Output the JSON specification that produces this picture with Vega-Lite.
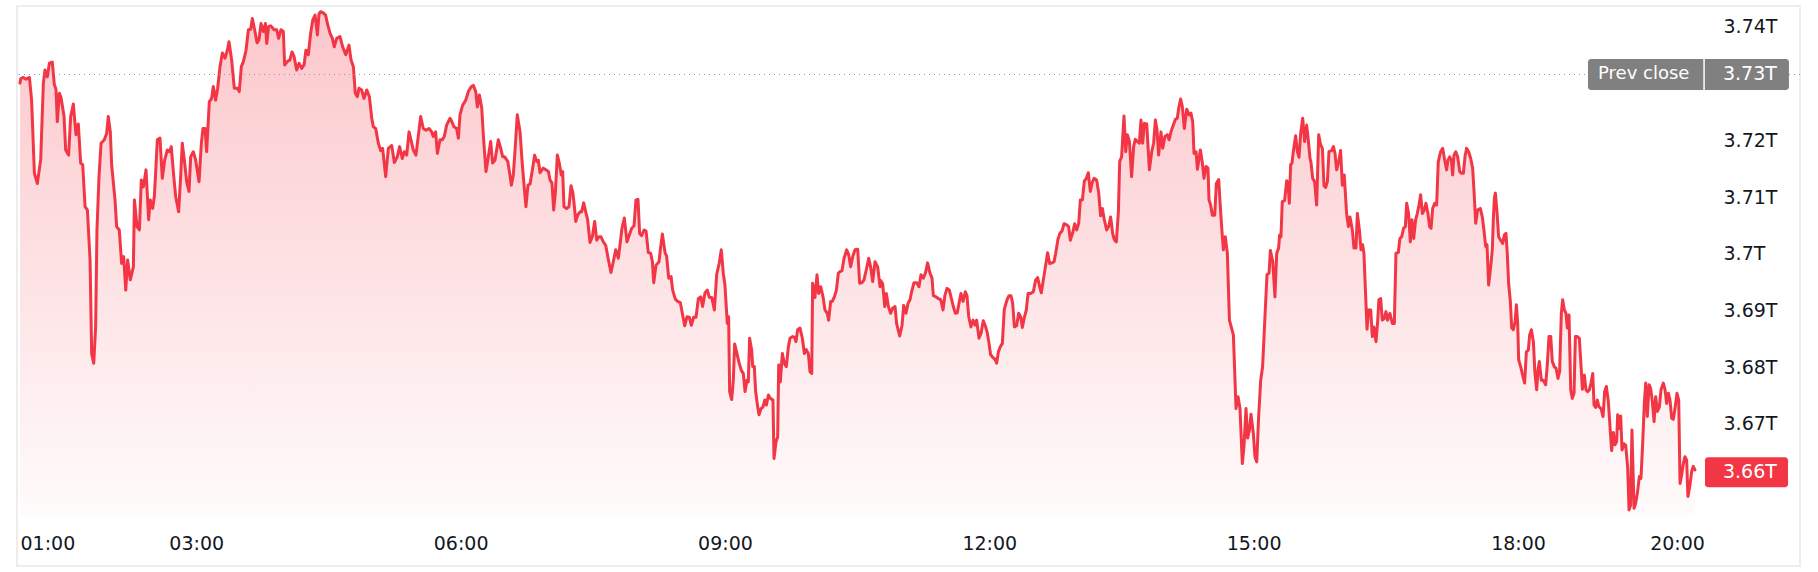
{
  "$schema": "https://vega.github.io/schema/vega-lite/v6.json",
  "autosize": {"type": "none"},
  "padding": {"left": 17, "top": 6, "right": 18, "bottom": 6},
  "width": 1783,
  "height": 560,
  "background": "#ffffff",
  "config": {
    "view": {"stroke": "#EDEDED", "strokeWidth": 2},
    "font": "DejaVu Sans"
  },
  "datasets": {
    "cap": [
      {"m":60,"v":3.7301},{"m":60.5,"v":3.7309},{"m":62.3,"v":3.7311},{"m":64.1,"v":3.7308},{"m":66.4,"v":3.7311},{"m":67.9,"v":3.7271},{"m":69.8,"v":3.7142},{"m":71.8,"v":3.7124},{"m":74.1,"v":3.7166},{"m":75.9,"v":3.7301},
      {"m":77.0,"v":3.7324},{"m":78.6,"v":3.7312},{"m":80.0,"v":3.7336},{"m":82.0,"v":3.7338},{"m":83.4,"v":3.7298},{"m":84.5,"v":3.7290},{"m":85.4,"v":3.7233},{"m":86.8,"v":3.7283},{"m":87.9,"v":3.7276},{"m":90.0,"v":3.7242},
      {"m":91.1,"v":3.7183},{"m":93.1,"v":3.7174},{"m":94.5,"v":3.7242},{"m":96.3,"v":3.7264},{"m":98.1,"v":3.7210},{"m":99.7,"v":3.7229},{"m":101.3,"v":3.7160},{"m":102.7,"v":3.7157},{"m":104.3,"v":3.7083},{"m":105.9,"v":3.7077},
      {"m":107.7,"v":3.6989},{"m":108.8,"v":3.6824},{"m":110.2,"v":3.6807},{"m":111.5,"v":3.6871},{"m":112.4,"v":3.7042},{"m":113.8,"v":3.7136},{"m":115.2,"v":3.7195},{"m":117.4,"v":3.7201},{"m":119.0,"v":3.7212},{"m":120.1,"v":3.7242},
      {"m":121.5,"v":3.7215},{"m":122.4,"v":3.7157},{"m":124.7,"v":3.7095},{"m":125.8,"v":3.7048},{"m":127.6,"v":3.7042},{"m":129.2,"v":3.6983},{"m":130.6,"v":3.6995},{"m":132.0,"v":3.6936},{"m":133.3,"v":3.6989},{"m":135.1,"v":3.6954},
      {"m":137.2,"v":3.6977},{"m":137.9,"v":3.7095},{"m":139.7,"v":3.7048},{"m":141.3,"v":3.7042},{"m":142.6,"v":3.7130},{"m":144.0,"v":3.7118},{"m":145.8,"v":3.7148},{"m":147.6,"v":3.7060},{"m":148.7,"v":3.7095},{"m":150.3,"v":3.7080},
      {"m":151.5,"v":3.7101},{"m":153.5,"v":3.7201},{"m":155.3,"v":3.7204},{"m":156.9,"v":3.7133},{"m":158.5,"v":3.7165},{"m":160.3,"v":3.7183},{"m":161.9,"v":3.7180},{"m":163.0,"v":3.7189},{"m":164.6,"v":3.7139},{"m":166.0,"v":3.7101},
      {"m":168.0,"v":3.7074},{"m":169.2,"v":3.7127},{"m":170.5,"v":3.7195},{"m":171.9,"v":3.7165},{"m":173.5,"v":3.7127},{"m":175.1,"v":3.7110},{"m":176.2,"v":3.7171},{"m":178.0,"v":3.7180},{"m":179.6,"v":3.7165},{"m":181.9,"v":3.7127},
      {"m":183.5,"v":3.7195},{"m":184.6,"v":3.7221},{"m":186.0,"v":3.7221},{"m":187.1,"v":3.7180},{"m":188.9,"v":3.7268},{"m":190.5,"v":3.7274},{"m":191.6,"v":3.7295},{"m":193.2,"v":3.7271},{"m":194.6,"v":3.7292},{"m":196.2,"v":3.7330},
      {"m":197.8,"v":3.7354},{"m":199.6,"v":3.7345},{"m":201.2,"v":3.7359},{"m":202.3,"v":3.7374},{"m":204.1,"v":3.7342},{"m":205.9,"v":3.7292},{"m":208.0,"v":3.7292},{"m":209.3,"v":3.7286},{"m":210.7,"v":3.7330},{"m":212.1,"v":3.7339},
      {"m":213.9,"v":3.7359},{"m":215.5,"v":3.7395},{"m":217.1,"v":3.7396},{"m":218.2,"v":3.7415},{"m":220.0,"v":3.7392},{"m":221.4,"v":3.7372},{"m":222.7,"v":3.7377},{"m":224.1,"v":3.7406},{"m":225.7,"v":3.7392},{"m":227.1,"v":3.7406},
      {"m":228.0,"v":3.7371},{"m":229.3,"v":3.7401},{"m":230.7,"v":3.7402},{"m":233.0,"v":3.7395},{"m":234.8,"v":3.7395},{"m":236.1,"v":3.7380},{"m":237.7,"v":3.7395},{"m":239.3,"v":3.7392},{"m":240.2,"v":3.7333},{"m":242.0,"v":3.7339},
      {"m":243.8,"v":3.7342},{"m":245.2,"v":3.7356},{"m":246.6,"v":3.7348},{"m":248.4,"v":3.7324},{"m":250.0,"v":3.7336},{"m":251.8,"v":3.7327},{"m":253.4,"v":3.7333},{"m":254.7,"v":3.7359},{"m":256.3,"v":3.7351},{"m":257.9,"v":3.7389},
      {"m":259.3,"v":3.7412},{"m":260.9,"v":3.7421},{"m":262.5,"v":3.7386},{"m":263.6,"v":3.7423},{"m":264.7,"v":3.7427},{"m":266.5,"v":3.7425},{"m":268.1,"v":3.7421},{"m":269.5,"v":3.7404},{"m":271.1,"v":3.7389},{"m":272.7,"v":3.7380},
      {"m":274.0,"v":3.7365},{"m":275.6,"v":3.7380},{"m":277.9,"v":3.7383},{"m":279.7,"v":3.7365},{"m":281.8,"v":3.7351},{"m":284.0,"v":3.7368},{"m":285.4,"v":3.7342},{"m":287.0,"v":3.7330},{"m":288.3,"v":3.7283},{"m":289.7,"v":3.7277},
      {"m":290.8,"v":3.7292},{"m":292.6,"v":3.7289},{"m":294.2,"v":3.7274},{"m":296.1,"v":3.7289},{"m":297.9,"v":3.7277},{"m":299.5,"v":3.7239},{"m":300.6,"v":3.7224},{"m":302.2,"v":3.7221},{"m":304.0,"v":3.7195},{"m":305.6,"v":3.7182},
      {"m":306.9,"v":3.7186},{"m":309.0,"v":3.7136},{"m":310.8,"v":3.7186},{"m":313.1,"v":3.7191},{"m":314.9,"v":3.7161},{"m":316.9,"v":3.7171},{"m":318.5,"v":3.7189},{"m":320.3,"v":3.7168},{"m":321.7,"v":3.7180},{"m":323.3,"v":3.7174},
      {"m":324.9,"v":3.7215},{"m":326.2,"v":3.7201},{"m":327.8,"v":3.7183},{"m":329.6,"v":3.7174},{"m":331.7,"v":3.7218},{"m":332.8,"v":3.7242},{"m":334.6,"v":3.7221},{"m":336.5,"v":3.7218},{"m":338.5,"v":3.7221},{"m":340.3,"v":3.7215},
      {"m":341.4,"v":3.7207},{"m":343.0,"v":3.7215},{"m":344.2,"v":3.7177},{"m":346.0,"v":3.7201},{"m":347.6,"v":3.7201},{"m":348.9,"v":3.7207},{"m":350.5,"v":3.7227},{"m":352.8,"v":3.7239},
      {"m":353.5,"v":3.7236},{"m":355.5,"v":3.7224},{"m":357.3,"v":3.7221},{"m":358.5,"v":3.7204},{"m":359.6,"v":3.7245},{"m":361.4,"v":3.7262},{"m":363.5,"v":3.7271},{"m":365.3,"v":3.7286},{"m":367.1,"v":3.7294},{"m":368.7,"v":3.7297},
      {"m":370.3,"v":3.7286},{"m":371.4,"v":3.7259},{"m":372.8,"v":3.7280},{"m":374.4,"v":3.7257},{"m":375.7,"v":3.7201},{"m":377.3,"v":3.7145},{"m":378.9,"v":3.7171},{"m":380.5,"v":3.7198},{"m":381.8,"v":3.7160},{"m":383.4,"v":3.7165},
      {"m":385.7,"v":3.7201},{"m":387.1,"v":3.7188},{"m":388.7,"v":3.7171},{"m":390.0,"v":3.7171},{"m":392.1,"v":3.7163},{"m":393.6,"v":3.7139},{"m":394.6,"v":3.7121},{"m":395.9,"v":3.7139},{"m":397.1,"v":3.7183},{"m":398.6,"v":3.7245},
      {"m":400.5,"v":3.7215},{"m":401.8,"v":3.7165},{"m":403.2,"v":3.7121},{"m":404.5,"v":3.7083},{"m":405.9,"v":3.7121},{"m":407.3,"v":3.7123},{"m":408.9,"v":3.7148},{"m":410.4,"v":3.7174},{"m":411.8,"v":3.7163},{"m":412.9,"v":3.7165},
      {"m":414.1,"v":3.7143},{"m":416.3,"v":3.7151},{"m":418.2,"v":3.7148},{"m":419.8,"v":3.7145},{"m":420.9,"v":3.7130},{"m":422.2,"v":3.7125},{"m":423.4,"v":3.7077},{"m":424.5,"v":3.7107},{"m":425.9,"v":3.7174},{"m":427.2,"v":3.7160},
      {"m":428.6,"v":3.7139},{"m":429.5,"v":3.7145},{"m":430.4,"v":3.7083},{"m":432.2,"v":3.7080},{"m":433.8,"v":3.7083},{"m":435.2,"v":3.7120},{"m":436.5,"v":3.7107},{"m":437.5,"v":3.7083},{"m":438.4,"v":3.7057},{"m":439.7,"v":3.7068},
      {"m":441.3,"v":3.7074},{"m":442.4,"v":3.7074},{"m":443.8,"v":3.7090},{"m":445.2,"v":3.7074},{"m":446.5,"v":3.7060},{"m":448.1,"v":3.7020},{"m":449.7,"v":3.7030},{"m":451.3,"v":3.7057},{"m":452.7,"v":3.7024},{"m":454.3,"v":3.7030},
      {"m":455.6,"v":3.7030},{"m":457.2,"v":3.7021},{"m":458.8,"v":3.7015},{"m":460.6,"v":3.6990},{"m":462.4,"v":3.6967},{"m":464.0,"v":3.6986},{"m":465.6,"v":3.7007},{"m":467.4,"v":3.6992},{"m":468.8,"v":3.7021},{"m":469.9,"v":3.7045},
      {"m":471.5,"v":3.7063},{"m":473.3,"v":3.7021},{"m":474.9,"v":3.7033},{"m":476.5,"v":3.7045},{"m":478.1,"v":3.7049},{"m":479.4,"v":3.7095},{"m":480.8,"v":3.7096},{"m":481.9,"v":3.7036},{"m":483.3,"v":3.7032},{"m":484.9,"v":3.7042},
      {"m":486.3,"v":3.7040},{"m":487.8,"v":3.7002},{"m":489.4,"v":3.7001},{"m":490.6,"v":3.6986},{"m":491.5,"v":3.6949},{"m":493.1,"v":3.6980},{"m":495.1,"v":3.6986},{"m":496.0,"v":3.7007},{"m":497.4,"v":3.7035},{"m":499.2,"v":3.7002},
      {"m":500.3,"v":3.6996},{"m":501.7,"v":3.6957},{"m":503.3,"v":3.6960},{"m":504.4,"v":3.6936},{"m":506.2,"v":3.6920},{"m":507.8,"v":3.6916},{"m":509.6,"v":3.6914},{"m":511.2,"v":3.6892},{"m":512.6,"v":3.6873},{"m":514.2,"v":3.6889},
      {"m":515.8,"v":3.6888},{"m":517.1,"v":3.6874},{"m":518.7,"v":3.6888},{"m":520.3,"v":3.6888},{"m":521.9,"v":3.6921},{"m":523.5,"v":3.6924},{"m":524.8,"v":3.6907},{"m":526.4,"v":3.6931},{"m":528.0,"v":3.6936},{"m":529.4,"v":3.6923},
      {"m":531.0,"v":3.6923},{"m":532.8,"v":3.6901},{"m":534.4,"v":3.6964},{"m":536.0,"v":3.6982},{"m":537.5,"v":3.7007},{"m":538.9,"v":3.6965},{"m":540.0,"v":3.6945},{"m":541.6,"v":3.6877},{"m":542.5,"v":3.6889},{"m":543.2,"v":3.6757},
      {"m":544.6,"v":3.6743},{"m":545.7,"v":3.6777},{"m":546.6,"v":3.6841},{"m":548.2,"v":3.6824},{"m":549.6,"v":3.6808},{"m":551.2,"v":3.6794},{"m":552.5,"v":3.6789},{"m":553.7,"v":3.6757},{"m":555.0,"v":3.6777},{"m":555.9,"v":3.6774},
      {"m":556.8,"v":3.6851},{"m":558.2,"v":3.6830},{"m":558.9,"v":3.6801},{"m":560.0,"v":3.6801},{"m":560.9,"v":3.6757},{"m":562.3,"v":3.6730},{"m":563.2,"v":3.6716},{"m":564.6,"v":3.6727},{"m":565.9,"v":3.6730},{"m":567.1,"v":3.6742},
      {"m":568.2,"v":3.6733},{"m":569.6,"v":3.6751},{"m":570.9,"v":3.6745},{"m":572.7,"v":3.6742},{"m":573.4,"v":3.6639},{"m":574.8,"v":3.6669},{"m":575.9,"v":3.6677},{"m":576.6,"v":3.6804},{"m":577.7,"v":3.6774},{"m":579.1,"v":3.6824},
      {"m":580.4,"v":3.6807},{"m":581.8,"v":3.6801},{"m":583.2,"v":3.6836},{"m":584.3,"v":3.6851},{"m":586.1,"v":3.6854},{"m":587.3,"v":3.6853},{"m":588.4,"v":3.6845},{"m":589.5,"v":3.6866},{"m":591.1,"v":3.6869},{"m":592.7,"v":3.6851},
      {"m":594.1,"v":3.6824},{"m":595.4,"v":3.6831},{"m":596.8,"v":3.6824},{"m":597.9,"v":3.6792},{"m":599.1,"v":3.6789},{"m":599.7,"v":3.6948},{"m":601.3,"v":3.6923},{"m":602.7,"v":3.6963},{"m":603.8,"v":3.6930},{"m":605.2,"v":3.6942},
      {"m":606.8,"v":3.6924},{"m":608.1,"v":3.6901},{"m":609.7,"v":3.6895},{"m":610.6,"v":3.6883},{"m":612.0,"v":3.6916},{"m":613.1,"v":3.6916},{"m":614.5,"v":3.6924},{"m":615.9,"v":3.6936},{"m":617.2,"v":3.6966},{"m":618.6,"v":3.6969},
      {"m":619.7,"v":3.6970},{"m":621.1,"v":3.6992},{"m":622.9,"v":3.7007},{"m":624.3,"v":3.6998},{"m":625.6,"v":3.6977},{"m":627.0,"v":3.6995},{"m":628.6,"v":3.7007},{"m":630.4,"v":3.7008},{"m":631.7,"v":3.6948},{"m":633.3,"v":3.6949},
      {"m":634.7,"v":3.6954},{"m":636.1,"v":3.6970},{"m":637.9,"v":3.6992},{"m":639.2,"v":3.6977},{"m":640.6,"v":3.6951},{"m":642.2,"v":3.6986},{"m":644.0,"v":3.6977},{"m":645.6,"v":3.6942},
      {"m":646.0,"v":3.6953},{"m":647.4,"v":3.6947},{"m":648.8,"v":3.6907},{"m":649.9,"v":3.6930},{"m":651.3,"v":3.6907},{"m":652.8,"v":3.6895},{"m":654.2,"v":3.6904},{"m":655.8,"v":3.6907},{"m":656.9,"v":3.6877},{"m":659.0,"v":3.6855},
      {"m":660.6,"v":3.6874},{"m":661.7,"v":3.6909},{"m":663.3,"v":3.6895},{"m":664.6,"v":3.6912},{"m":666.0,"v":3.6919},{"m":667.1,"v":3.6933},{"m":668.7,"v":3.6949},{"m":670.6,"v":3.6949},{"m":672.1,"v":3.6942},{"m":673.5,"v":3.6963},
      {"m":675.1,"v":3.6957},{"m":676.5,"v":3.6966},{"m":678.0,"v":3.6984},{"m":679.6,"v":3.6966},{"m":681.0,"v":3.6957},{"m":681.9,"v":3.6926},{"m":683.7,"v":3.6924},{"m":685.3,"v":3.6921},{"m":686.9,"v":3.6919},{"m":688.5,"v":3.6901},
      {"m":689.8,"v":3.6927},{"m":691.2,"v":3.6939},{"m":692.8,"v":3.6936},{"m":693.9,"v":3.6924},{"m":695.5,"v":3.6907},{"m":696.9,"v":3.6895},{"m":698.2,"v":3.6896},{"m":699.6,"v":3.6916},{"m":700.7,"v":3.6930},{"m":702.1,"v":3.6916},
      {"m":703.7,"v":3.6933},{"m":704.8,"v":3.6926},{"m":706.0,"v":3.6889},{"m":707.5,"v":3.6871},{"m":708.9,"v":3.6883},{"m":710.3,"v":3.6874},{"m":711.4,"v":3.6883},{"m":713.0,"v":3.6851},{"m":714.4,"v":3.6860},{"m":715.9,"v":3.6882},
      {"m":717.3,"v":3.6873},{"m":718.7,"v":3.6860},{"m":719.8,"v":3.6842},{"m":720.9,"v":3.6822},{"m":722.5,"v":3.6817},{"m":723.9,"v":3.6814},{"m":725.0,"v":3.6807},{"m":726.2,"v":3.6827},{"m":727.5,"v":3.6836},{"m":728.9,"v":3.6842},
      {"m":730.2,"v":3.6902},{"m":732.1,"v":3.6919},{"m":733.4,"v":3.6926},{"m":734.8,"v":3.6926},{"m":735.9,"v":3.6913},{"m":737.1,"v":3.6871},{"m":738.6,"v":3.6873},{"m":740.0,"v":3.6895},{"m":741.4,"v":3.6889},{"m":742.5,"v":3.6870},
      {"m":743.9,"v":3.6888},{"m":745.2,"v":3.6901},{"m":746.4,"v":3.6930},{"m":748.2,"v":3.6930},{"m":750.0,"v":3.6933},{"m":751.6,"v":3.6954},{"m":752.9,"v":3.6958},{"m":754.3,"v":3.6942},{"m":755.4,"v":3.6931},{"m":756.8,"v":3.6954},
      {"m":758.4,"v":3.6980},{"m":759.7,"v":3.7002},{"m":761.1,"v":3.6983},{"m":762.7,"v":3.6984},{"m":764.1,"v":3.6986},{"m":765.2,"v":3.7001},{"m":766.8,"v":3.7026},{"m":768.1,"v":3.7036},{"m":769.5,"v":3.7040},{"m":770.9,"v":3.7053},
      {"m":772.7,"v":3.7051},{"m":774.0,"v":3.7048},{"m":775.2,"v":3.7024},{"m":776.8,"v":3.7037},{"m":778.1,"v":3.7053},{"m":779.5,"v":3.7042},{"m":780.9,"v":3.7054},{"m":782.0,"v":3.7095},{"m":783.4,"v":3.7095},{"m":784.7,"v":3.7128},
      {"m":786.1,"v":3.7133},{"m":787.4,"v":3.7143},{"m":788.8,"v":3.7110},{"m":789.9,"v":3.7124},{"m":791.3,"v":3.7133},{"m":793.1,"v":3.7130},{"m":794.5,"v":3.7107},{"m":795.8,"v":3.7067},{"m":797.0,"v":3.7080},{"m":798.3,"v":3.7060},
      {"m":799.9,"v":3.7042},{"m":801.3,"v":3.7048},{"m":802.6,"v":3.7065},{"m":804.0,"v":3.7036},{"m":805.1,"v":3.7025},{"m":806.5,"v":3.7021},{"m":807.9,"v":3.7074},{"m":808.8,"v":3.7163},{"m":810.1,"v":3.7171},{"m":811.7,"v":3.7243},
      {"m":812.9,"v":3.7180},{"m":814.0,"v":3.7210},{"m":815.4,"v":3.7198},{"m":816.9,"v":3.7136},{"m":818.3,"v":3.7189},{"m":819.4,"v":3.7202},{"m":820.8,"v":3.7198},{"m":822.2,"v":3.7195},{"m":823.3,"v":3.7236},{"m":824.4,"v":3.7195},
      {"m":825.6,"v":3.7230},{"m":827.2,"v":3.7229},{"m":829.0,"v":3.7148},{"m":830.6,"v":3.7180},{"m":831.9,"v":3.7195},{"m":833.1,"v":3.7236},{"m":834.2,"v":3.7218},{"m":835.3,"v":3.7174},{"m":836.9,"v":3.7215},{"m":838.1,"v":3.7186},
      {"m":839.6,"v":3.7207},{"m":841.2,"v":3.7210},{"m":842.4,"v":3.7201},{"m":843.7,"v":3.7215},{"m":845.3,"v":3.7227},{"m":846.7,"v":3.7237},{"m":848.0,"v":3.7239},{"m":849.0,"v":3.7257},{"m":850.3,"v":3.7273},{"m":851.4,"v":3.7260},
      {"m":852.8,"v":3.7221},{"m":854.4,"v":3.7255},{"m":856.0,"v":3.7245},{"m":857.3,"v":3.7248},{"m":858.5,"v":3.7233},{"m":859.4,"v":3.7177},{"m":860.8,"v":3.7180},{"m":861.7,"v":3.7149},{"m":862.8,"v":3.7167},{"m":863.7,"v":3.7183},
      {"m":865.1,"v":3.7160},{"m":866.2,"v":3.7133},{"m":867.6,"v":3.7154},{"m":868.9,"v":3.7151},{"m":869.6,"v":3.7095},{"m":870.7,"v":3.7086},{"m":871.9,"v":3.7068},{"m":873.5,"v":3.7068},{"m":874.6,"v":3.7124},{"m":876.2,"v":3.7131},
      {"m":877.6,"v":3.7071},{"m":878.7,"v":3.7030},{"m":879.4,"v":3.7007},{"m":880.7,"v":3.7030},{"m":882.1,"v":3.7001},{"m":883.5,"v":3.6883},{"m":886.2,"v":3.6857},{"m":888.0,"v":3.6727},{"m":889.4,"v":3.6748},{"m":890.7,"v":3.6727},
      {"m":892.3,"v":3.6630},{"m":893.4,"v":3.6660},{"m":894.8,"v":3.6727},{"m":895.9,"v":3.6675},{"m":897.1,"v":3.6689},{"m":898.2,"v":3.6717},{"m":899.8,"v":3.6683},{"m":900.9,"v":3.6642},{"m":902.1,"v":3.6633},{"m":903.4,"v":3.6713},
      {"m":904.8,"v":3.6777},{"m":906.1,"v":3.6801},{"m":907.7,"v":3.6889},{"m":909.1,"v":3.6963},{"m":910.5,"v":3.6966},{"m":911.4,"v":3.7006},{"m":913.0,"v":3.6986},{"m":914.5,"v":3.6924},{"m":915.7,"v":3.7001},{"m":917.0,"v":3.7010},
      {"m":917.7,"v":3.7033},{"m":918.6,"v":3.7030},{"m":919.5,"v":3.7092},{"m":921.1,"v":3.7094},{"m":922.5,"v":3.7129},{"m":923.4,"v":3.7124},{"m":924.3,"v":3.7089},{"m":925.2,"v":3.7157},{"m":926.1,"v":3.7160},{"m":927.0,"v":3.7180},
      {"m":928.6,"v":3.7208},{"m":929.8,"v":3.7180},{"m":930.9,"v":3.7170},{"m":932.0,"v":3.7212},{"m":933.4,"v":3.7239},{"m":934.7,"v":3.7198},{"m":936.1,"v":3.7227},{"m":937.2,"v":3.7201},{"m":938.4,"v":3.7168},
      {"m":939.0,"v":3.7162},{"m":940.2,"v":3.7133},{"m":941.5,"v":3.7127},{"m":942.9,"v":3.7086},{"m":944.3,"v":3.7210},{"m":945.6,"v":3.7192},{"m":946.8,"v":3.7186},{"m":947.9,"v":3.7120},{"m":949.0,"v":3.7117},{"m":950.2,"v":3.7127},
      {"m":951.3,"v":3.7180},{"m":953.1,"v":3.7182},{"m":954.3,"v":3.7189},{"m":955.4,"v":3.7177},{"m":956.5,"v":3.7148},{"m":958.1,"v":3.7165},{"m":959.2,"v":3.7182},{"m":960.4,"v":3.7121},{"m":961.7,"v":3.7139},{"m":963.3,"v":3.7071},
      {"m":964.5,"v":3.7048},{"m":965.6,"v":3.7065},{"m":967.2,"v":3.7042},{"m":968.3,"v":3.7010},{"m":969.7,"v":3.7010},{"m":970.6,"v":3.7071},{"m":972.0,"v":3.7042},{"m":973.1,"v":3.7007},{"m":974.2,"v":3.7016},{"m":975.1,"v":3.7001},
      {"m":976.3,"v":3.6924},{"m":977.2,"v":3.6867},{"m":978.3,"v":3.6901},{"m":979.7,"v":3.6901},{"m":980.8,"v":3.6854},{"m":981.9,"v":3.6871},{"m":983.3,"v":3.6845},{"m":984.4,"v":3.6879},{"m":985.3,"v":3.6919},{"m":986.5,"v":3.6921},
      {"m":987.6,"v":3.6883},{"m":989.0,"v":3.6886},{"m":990.1,"v":3.6898},{"m":991.2,"v":3.6883},{"m":992.8,"v":3.6895},{"m":994.4,"v":3.6877},{"m":995.8,"v":3.6877},{"m":996.9,"v":3.7001},{"m":998.5,"v":3.7002},{"m":999.6,"v":3.7027},
      {"m":1000.8,"v":3.7030},{"m":1002.1,"v":3.7045},{"m":1003.3,"v":3.7048},{"m":1004.2,"v":3.7089},{"m":1005.5,"v":3.7071},{"m":1006.7,"v":3.7021},{"m":1007.8,"v":3.7060},{"m":1009.0,"v":3.7027},{"m":1010.3,"v":3.7060},{"m":1011.4,"v":3.7071},
      {"m":1012.6,"v":3.7086},{"m":1013.7,"v":3.7104},{"m":1014.9,"v":3.7071},{"m":1016.2,"v":3.7077},{"m":1017.3,"v":3.7089},{"m":1018.7,"v":3.7071},{"m":1019.8,"v":3.7048},{"m":1020.8,"v":3.7045},{"m":1021.9,"v":3.7080},{"m":1023.3,"v":3.7089},
      {"m":1024.6,"v":3.7086},{"m":1025.7,"v":3.7162},{"m":1027.3,"v":3.7180},{"m":1028.7,"v":3.7186},{"m":1030.1,"v":3.7165},{"m":1031.4,"v":3.7148},{"m":1032.3,"v":3.7165},{"m":1033.5,"v":3.7171},{"m":1034.6,"v":3.7165},{"m":1035.5,"v":3.7139},
      {"m":1036.4,"v":3.7174},{"m":1037.6,"v":3.7180},{"m":1038.9,"v":3.7171},{"m":1040.3,"v":3.7145},{"m":1041.6,"v":3.7142},{"m":1042.8,"v":3.7142},{"m":1043.9,"v":3.7171},{"m":1045.0,"v":3.7186},{"m":1046.4,"v":3.7180},{"m":1047.8,"v":3.7168},
      {"m":1049.1,"v":3.7151},{"m":1050.0,"v":3.7113},{"m":1051.2,"v":3.7054},{"m":1052.5,"v":3.7077},{"m":1054.3,"v":3.7080},{"m":1055.7,"v":3.7065},{"m":1056.8,"v":3.7042},{"m":1058.0,"v":3.7013},{"m":1058.9,"v":3.7016},{"m":1060.0,"v":3.6945},
      {"m":1061.4,"v":3.6977},{"m":1062.5,"v":3.7007},{"m":1063.2,"v":3.7060},{"m":1063.9,"v":3.7098},{"m":1064.6,"v":3.7107},{"m":1065.7,"v":3.7074},{"m":1066.8,"v":3.7030},{"m":1068.2,"v":3.7024},{"m":1069.6,"v":3.7018},{"m":1070.7,"v":3.7033},
      {"m":1071.8,"v":3.7036},{"m":1072.7,"v":3.7001},{"m":1073.6,"v":3.6948},{"m":1074.8,"v":3.6916},{"m":1075.7,"v":3.6869},{"m":1076.8,"v":3.6866},{"m":1078.0,"v":3.6880},{"m":1078.9,"v":3.6910},{"m":1079.8,"v":3.6877},{"m":1080.5,"v":3.6813},
      {"m":1082.0,"v":3.6801},{"m":1083.5,"v":3.6786},{"m":1085.0,"v":3.6772},{"m":1086.3,"v":3.6827},{"m":1087.8,"v":3.6830},{"m":1088.8,"v":3.6857},{"m":1090.1,"v":3.6866},{"m":1091.6,"v":3.6845},{"m":1092.8,"v":3.6789},{"m":1094.1,"v":3.6760},
      {"m":1095.1,"v":3.6795},{"m":1096.1,"v":3.6810},{"m":1097.6,"v":3.6777},{"m":1099.1,"v":3.6777},{"m":1100.9,"v":3.6769},{"m":1102.1,"v":3.6804},{"m":1103.4,"v":3.6854},{"m":1104.7,"v":3.6854},{"m":1105.9,"v":3.6810},{"m":1107.4,"v":3.6801},
      {"m":1108.7,"v":3.6798},{"m":1110.2,"v":3.6780},{"m":1111.4,"v":3.6792},{"m":1112.7,"v":3.6895},{"m":1113.7,"v":3.6919},{"m":1115.0,"v":3.6901},{"m":1116.2,"v":3.6895},{"m":1117.2,"v":3.6869},{"m":1118.5,"v":3.6892},{"m":1119.8,"v":3.6760},
      {"m":1121.0,"v":3.6745},{"m":1122.3,"v":3.6754},{"m":1123.3,"v":3.6854},{"m":1124.8,"v":3.6854},{"m":1126.3,"v":3.6851},{"m":1127.6,"v":3.6801},{"m":1128.6,"v":3.6761},{"m":1130.1,"v":3.6786},{"m":1131.3,"v":3.6760},{"m":1132.6,"v":3.6757},
      {"m":1133.8,"v":3.6760},{"m":1135.1,"v":3.6772},{"m":1136.4,"v":3.6789},{"m":1137.4,"v":3.6733},{"m":1138.6,"v":3.6729},{"m":1139.9,"v":3.6742},{"m":1141.1,"v":3.6730},{"m":1142.7,"v":3.6727},{"m":1144.2,"v":3.6713},{"m":1145.4,"v":3.6757},
      {"m":1146.7,"v":3.6766},{"m":1148.2,"v":3.6739},{"m":1149.7,"v":3.6686},{"m":1150.7,"v":3.6653},{"m":1152.0,"v":3.6685},{"m":1153.2,"v":3.6663},{"m":1154.5,"v":3.6669},{"m":1155.2,"v":3.6716},{"m":1156.5,"v":3.6692},{"m":1157.5,"v":3.6714},
      {"m":1158.5,"v":3.6654},{"m":1160.0,"v":3.6665},{"m":1161.3,"v":3.6662},{"m":1162.8,"v":3.6622},{"m":1163.8,"v":3.6548},{"m":1165.0,"v":3.6557},{"m":1166.0,"v":3.6689},{"m":1167.6,"v":3.6551},{"m":1168.8,"v":3.6560},{"m":1170.1,"v":3.6578},
      {"m":1171.6,"v":3.6607},{"m":1172.8,"v":3.6604},{"m":1174.1,"v":3.6666},{"m":1175.4,"v":3.6739},{"m":1176.4,"v":3.6772},{"m":1177.6,"v":3.6713},{"m":1178.9,"v":3.6769},{"m":1180.1,"v":3.6763},{"m":1181.4,"v":3.6739},{"m":1182.7,"v":3.6704},
      {"m":1183.9,"v":3.6748},{"m":1185.2,"v":3.6722},{"m":1186.7,"v":3.6730},{"m":1187.9,"v":3.6760},{"m":1189.7,"v":3.6772},{"m":1191.0,"v":3.6760},{"m":1192.2,"v":3.6736},{"m":1193.5,"v":3.6754},{"m":1194.7,"v":3.6742},{"m":1196.0,"v":3.6710},
      {"m":1197.2,"v":3.6708},{"m":1198.5,"v":3.6727},{"m":1200.0,"v":3.6754},{"m":1201.3,"v":3.6742},{"m":1202.3,"v":3.6595},{"m":1203.5,"v":3.6610},{"m":1204.8,"v":3.6630},{"m":1206.0,"v":3.6642},{"m":1207.3,"v":3.6636},{"m":1208.3,"v":3.6572},
      {"m":1209.8,"v":3.6592},{"m":1211.1,"v":3.6616},{"m":1212.3,"v":3.6625},{"m":1213.6,"v":3.6619}
    ]
  },
  "layer": [
    {
      "data": {"name": "cap"},
      "mark": {
        "type": "area",
        "interpolate": "linear",
        "fill": {
          "gradient": "linear",
          "x1": 0, "y1": 0, "x2": 0, "y2": 1,
          "stops": [
            {"offset": 0, "color": "rgba(242,54,69,0.28)"},
            {"offset": 1, "color": "rgba(242,54,69,0.02)"}
          ]
        }
      },
      "encoding": {
        "x": {
          "field": "m", "type": "quantitative",
          "scale": {"domain": [60, 1080, 1200, 1225], "range": [3, 1501, 1660, 1693], "nice": false, "zero": false},
          "axis": {
            "orient": "bottom",
            "values": [60, 180, 360, 540, 720, 900, 1080, 1200],
            "labelExpr": "(datum.value < 600 ? '0' : '') + (datum.value / 60) + ':00'",
            "title": null,
            "grid": false, "domain": false, "ticks": false, "tickSize": 0,
            "labelPadding": 0, "offset": -23,
            "labelBaseline": "middle",
            "labelFlush": true,
            "labelOverlap": false,
            "labelFont": "DejaVu Sans", "labelFontSize": 19, "labelColor": "#131722"
          }
        },
        "y": {
          "field": "v", "type": "quantitative",
          "scale": {"domain": [3.65393, 3.7437], "range": [509, 0], "nice": false, "zero": false},
          "axis": {
            "orient": "right",
            "values": [3.67, 3.68, 3.69, 3.7, 3.71, 3.72, 3.74],
            "labelExpr": "format(datum.value, '.3~r') + 'T'",
            "title": null,
            "grid": false, "domain": false, "ticks": false, "tickSize": 0,
            "labelPadding": 0, "offset": -77,
            "labelAlign": "left", "labelBaseline": "middle",
            "labelOverlap": false,
            "labelFont": "DejaVu Sans", "labelFontSize": 19, "labelColor": "#131722"
          }
        },
        "y2": {"datum": 3.65393}
      }
    },
    {
      "data": {"name": "cap"},
      "mark": {"type": "line", "color": "#F23645", "strokeWidth": 3, "strokeJoin": "round", "strokeCap": "round"},
      "encoding": {
        "x": {"field": "m", "type": "quantitative"},
        "y": {"field": "v", "type": "quantitative"}
      }
    },
    {
      "data": {"values": [{}]},
      "mark": {"type": "rule", "color": "#9598A1", "strokeWidth": 1, "strokeDash": [1, 4]},
      "encoding": {"y": {"datum": 3.73162}}
    },
    {
      "data": {"values": [{}]},
      "mark": {"type": "rect", "color": "#808080", "cornerRadius": 3},
      "encoding": {
        "x": {"datum": 1132.8}, "x2": {"datum": 1284.8},
        "y": {"datum": 3.73436}, "y2": {"datum": 3.72889}
      }
    },
    {
      "data": {"values": [{}]},
      "mark": {"type": "rule", "color": "#ffffff", "strokeWidth": 1.5},
      "encoding": {
        "x": {"datum": 1220.5},
        "y": {"datum": 3.73436}, "y2": {"datum": 3.72889}
      }
    },
    {
      "data": {"values": [{}]},
      "mark": {"type": "text", "align": "left", "baseline": "middle", "color": "#ffffff", "font": "DejaVu Sans", "fontSize": 18},
      "encoding": {
        "x": {"datum": 1140.4}, "y": {"datum": 3.73162},
        "text": {"value": "Prev close"}
      }
    },
    {
      "data": {"values": [{}]},
      "mark": {"type": "text", "align": "left", "baseline": "middle", "color": "#ffffff", "font": "DejaVu Sans", "fontSize": 19},
      "encoding": {
        "x": {"datum": 1234.8}, "y": {"datum": 3.73162},
        "text": {"value": "3.73T"}
      }
    },
    {
      "data": {"values": [{}]},
      "mark": {"type": "rect", "color": "#F23645", "cornerRadius": 3},
      "encoding": {
        "x": {"datum": 1221.2}, "x2": {"datum": 1284.1},
        "y": {"datum": 3.66411}, "y2": {"datum": 3.65882}
      }
    },
    {
      "data": {"values": [{}]},
      "mark": {"type": "text", "align": "left", "baseline": "middle", "color": "#ffffff", "font": "DejaVu Sans", "fontSize": 19},
      "encoding": {
        "x": {"datum": 1234.8}, "y": {"datum": 3.66146},
        "text": {"value": "3.66T"}
      }
    }
  ]
}
